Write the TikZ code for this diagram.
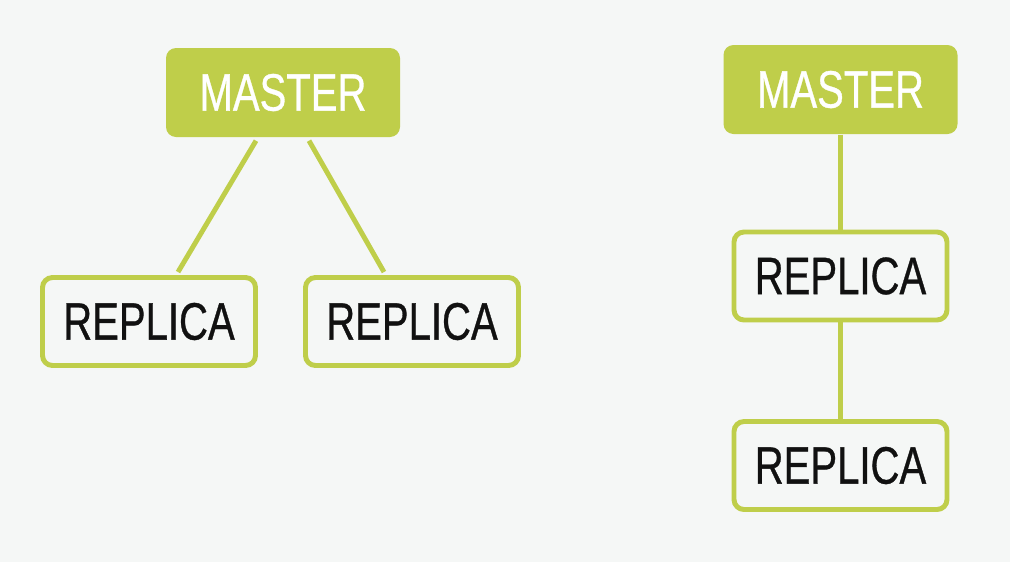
\documentclass[tikz,border=0pt]{standalone}
\usepackage{fontspec}
\setsansfont[FakeStretch=0.76,FakeBold=0.6]{Liberation Sans}
\usetikzlibrary{positioning,calc}
\definecolor{accent1}{HTML}{BFCE4A}
\definecolor{paper}{HTML}{F5F7F6}
\definecolor{ink}{HTML}{111111}

\tikzset{
  masterbox/.style={rounded corners=0.1cm, fill=accent1, draw=none, minimum width=2.34cm, minimum height=0.89cm, inner sep=0pt, text=white, font=\sffamily\fontsize{15}{17}\selectfont},
  replicabox/.style={rounded corners=0.1cm, fill=paper, draw=accent1, line width=1.4pt, minimum width=2.13cm, minimum height=0.88cm, inner sep=0pt, text=ink, font=\sffamily\fontsize{15}{17}\selectfont},
  link/.style={draw=accent1, line width=1.4pt}
}

\begin{document}
\begin{tikzpicture}[x=1cm,y=1cm]
\fill[paper] (0,0) rectangle (10.1,5.62);
\useasboundingbox (0,0) rectangle (10.1,5.62);
% star layout
\node[masterbox] (mA) at (2.83,4.695) {MASTER};
\node[replicabox] (rA1) at (1.49,2.405) {REPLICA};
\node[replicabox] (rA2) at (4.12,2.405) {REPLICA};
\draw[link] ($(mA.south)+(-0.27,-0.03)$) -- ($(rA1.north)+(0.29,0.03)$);
\draw[link] ($(mA.south)+(0.26,-0.03)$) -- ($(rA2.north)+(-0.28,0.03)$);
% chain layout
\node[masterbox] (mB) at (8.405,4.725) {MASTER};
\node[replicabox] (rB1) at (8.405,2.86) {REPLICA};
\node[replicabox] (rB2) at (8.405,0.965) {REPLICA};
\draw[link] (mB.south) -- (rB1.north);
\draw[link] (rB1.south) -- (rB2.north);
\end{tikzpicture}
\end{document}
